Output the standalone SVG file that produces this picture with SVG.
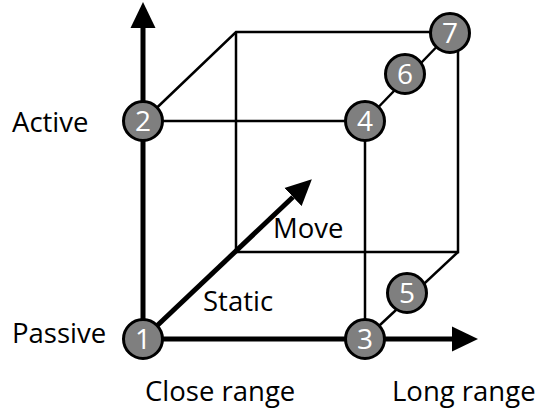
<svg xmlns="http://www.w3.org/2000/svg" width="541" height="414" viewBox="0 0 541 414">
<defs>
<marker id="ah" markerUnits="userSpaceOnUse" markerWidth="26" markerHeight="26" viewBox="0 0 26 26" refX="0" refY="13" orient="auto">
<path d="M0,0.5 L26,13 L0,25.5 Z" fill="#000"/>
</marker>
<style>
.thin{stroke:#000;stroke-width:2.5;fill:none}
.axis{stroke:#000;stroke-width:5;fill:none}
.node circle{fill:#7f7f7f;stroke:#000;stroke-width:3}
.node text{fill:#fff;font-family:"Open Sans",sans-serif;font-size:28px;text-anchor:middle}
.lbl{fill:#000;font-family:"Open Sans",sans-serif;font-size:27.5px}
</style>
</defs>
<rect width="541" height="414" fill="#fff"/>
<g id="connectors">
<polyline class="thin" points="143,121 236,32 450,32"/>
<line class="thin" x1="236" y1="32" x2="236" y2="252"/>
<polyline class="thin" points="236,252 458,252 458,33"/>
<line class="thin" x1="143" y1="121" x2="365" y2="121"/>
<line class="thin" x1="365" y1="121" x2="365" y2="339"/>
<line class="thin" x1="365" y1="121" x2="450" y2="33"/>
<line class="thin" x1="458" y1="252" x2="365" y2="339"/>
<line class="axis" x1="143" y1="339" x2="143" y2="28" marker-end="url(#ah)"/>
<line class="axis" x1="143" y1="339" x2="452" y2="339" marker-end="url(#ah)"/>
<line class="axis" x1="143" y1="339" x2="293" y2="197" marker-end="url(#ah)"/>
</g>
<g id="node1" class="node"><circle cx="143" cy="339" r="19.5"/><text x="143" y="349">1</text></g>
<g id="node2" class="node"><circle cx="143" cy="121" r="19.5"/><text x="143" y="131">2</text></g>
<g id="node3" class="node"><circle cx="365" cy="339" r="19.5"/><text x="365" y="349">3</text></g>
<g id="node4" class="node"><circle cx="365" cy="121" r="19.5"/><text x="365" y="131">4</text></g>
<g id="node5" class="node"><circle cx="407" cy="293" r="19.5"/><text x="407" y="303">5</text></g>
<g id="node6" class="node"><circle cx="405" cy="74" r="19.5"/><text x="405" y="84">6</text></g>
<g id="node7" class="node"><circle cx="450" cy="33" r="19.5"/><text x="450" y="43">7</text></g>
<g id="labels">
<text class="lbl" x="12" y="132">Active</text>
<text class="lbl" x="12" y="343">Passive</text>
<text class="lbl" x="145" y="401">Close range</text>
<text class="lbl" x="392" y="401">Long range</text>
<text class="lbl" x="203" y="311">Static</text>
<text class="lbl" x="273" y="238">Move</text>
</g>
</svg>
